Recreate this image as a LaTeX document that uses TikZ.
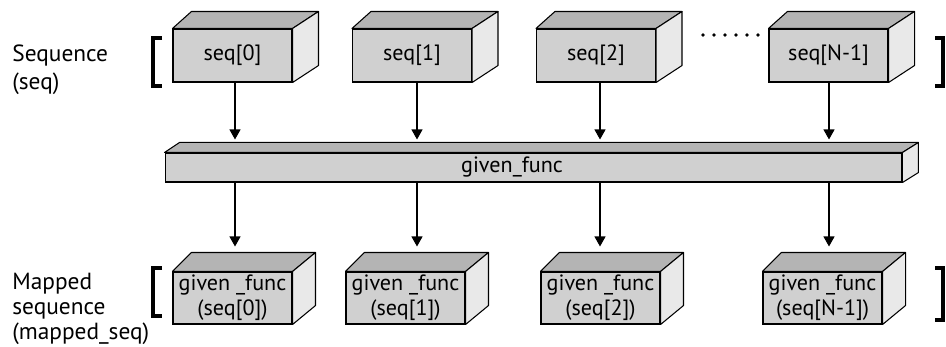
\documentclass[tikz,border=0pt]{standalone}
\usepackage{fontspec}
\setmainfont{PT Sans}
\usepackage{tikz}
\usetikzlibrary{calc}
\usetikzlibrary{arrows.meta}

\definecolor{frontgray}{RGB}{208,208,208}
\definecolor{topgray}{RGB}{180,180,180}
\definecolor{sidegray}{RGB}{233,233,233}

\tikzset{
  seqbox/.style={draw, fill=frontgray, line width=0.6pt, inner sep=0pt,
    minimum width=2.38cm, minimum height=1.06cm, font=\fontsize{12.6}{14}\selectfont},
  mapbox/.style={seqbox, minimum height=1.04cm, align=center,
    font=\fontsize{12.6}{14.2}\selectfont},
  funcbar/.style={seqbox, minimum width=14.74cm, minimum height=0.58cm},
  topface/.style={draw, fill=topgray, line width=0.6pt, line join=round},
  sideface/.style={draw, fill=sidegray, line width=0.6pt, line join=round},
  arr/.style={line width=0.6pt, -{Triangle[length=0.2cm,width=0.22cm]}},
  brack/.style={line width=2.4pt},
  sidelabel/.style={anchor=north west, inner sep=0pt, align=left,
    font=\fontsize{13.3}{15.6}\selectfont}
}

% top and right faces of a box: node, left shift, right shift, depth
\newcommand{\boxfaces}[4]{%
  \draw[topface] (#1.north west) -- ++(#2,-#4) -- ($(#1.north east)+(#3,-#4)$) -- (#1.north east) -- cycle;
  \draw[sideface] (#1.north east) -- ++(#3,-#4) -- ($(#1.south east)+(#3,-#4)$) -- (#1.south east) -- cycle;
}

\begin{document}
\begin{tikzpicture}[x=0.02cm,y=-0.02cm]
\useasboundingbox (0,0) rectangle (946,347);

% labels
\node[sidelabel] (lseq) at (12,45) {Sequence\\(seq)};
\node[sidelabel, font=\fontsize{13.3}{14.2}\selectfont] (lmap) at (12,273) {Mapped\\sequence\\(mapped\_seq)};

% input sequence
\node[seqbox] (s0) at (232.5,55.5) {seq[0]};
\node[seqbox] (s1) at (412,55.5) {seq[1]};
\node[seqbox] (s2) at (596,55.5) {seq[2]};
\node[seqbox] (sN) at (828.5,55.5) {seq[N-1]};
\foreach \n in {s0,s1,s2,sN} {\boxfaces{\n}{19}{26}{17}}
\foreach \i in {0,...,5} \fill (703+\i*11,35) circle (1.9);

% the function
\node[funcbar, label={[inner sep=0pt, xshift=-0.43cm, font=\fontsize{12.6}{14}\selectfont]center:given\_func}] (fn) at (533.5,167.5) {};
\boxfaces{fn}{15}{16}{10}

% mapped sequence
\node[mapbox] (b0) at (232.5,298) {given \_func\\(seq[0])};
\node[mapbox] (b1) at (405.5,298) {given \_func\\(seq[1])};
\node[mapbox] (b2) at (600.5,298) {given \_func\\(seq[2])};
\node[mapbox] (bN) at (822.5,298) {given \_func\\(seq[N-1])};
\foreach \n in {b0,b1,b2,bN} {\boxfaces{\n}{19}{23}{19}}

% brackets
\draw[brack] (162,38) -- (153,38) -- (153,86) -- (162,86);
\draw[brack] (935,38) -- (943,38) -- (943,86) -- (935,86);
\draw[brack] (162,268) -- (153,268) -- (153,316) -- (162,316);
\draw[brack] (935,268) -- (943,268) -- (943,320) -- (935,320);

% arrows
\coordinate (a0) at (235,0);
\coordinate (a1) at (417,0);
\coordinate (a2) at (600,0);
\coordinate (a3) at (829,0);
\draw[arr, shorten >=0.26cm] (s0.south -| a0) -- (fn.north -| a0);
\draw[arr, shorten >=0.26cm] (s1.south -| a1) -- (fn.north -| a1);
\draw[arr, shorten >=0.26cm] (s2.south -| a2) -- (fn.north -| a2);
\draw[arr, shorten >=0.26cm] (sN.south -| a3) -- (fn.north -| a3);
\draw[arr, shorten >=0.5cm] (fn.south -| a0) -- (b0.north -| a0);
\draw[arr, shorten >=0.5cm] (fn.south -| a1) -- (b1.north -| a1);
\draw[arr, shorten >=0.5cm] (fn.south -| a2) -- (b2.north -| a2);
\draw[arr, shorten >=0.5cm] (fn.south -| a3) -- (bN.north -| a3);
\end{tikzpicture}
\end{document}
